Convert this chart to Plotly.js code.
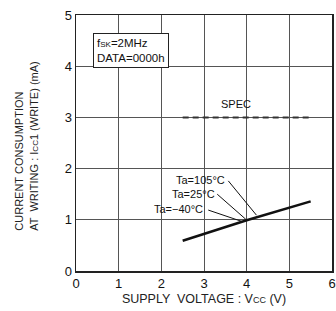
<!DOCTYPE html>
<html><head><meta charset="utf-8">
<script src="https://cdn.plot.ly/plotly-3.0.1.min.js"></script>
<style>html,body{margin:0;padding:0;background:#fff}</style>
</head><body>
<div id="chart" style="width:336px;height:311px"></div>
<script>
const vcc = [2.5, 4.0, 5.5];
const icc = [0.59, 0.99, 1.36];
const specX = [2.5, 5.5];
const specY = [3, 3];
const tempLabels = ['Ta=105°C', 'Ta=25°C', 'Ta=−40°C'];
const labelX = [3.53, 3.31, 3.03];
const labelY = [1.77, 1.50, 1.21];
const leaderStartX = [3.57, 3.31, 3.10];
const leaderStartY = [1.76, 1.50, 1.19];
const leaderEndX = [4.23, 3.98, 3.88];
const leaderEndY = [1.09, 1.01, 0.97];
const xTicks = [0, 1, 2, 3, 4, 5, 6];
const yTicks = [0, 1, 2, 3, 4, 5];

const font = 'Liberation Sans, Arial, sans-serif';
const traces = [
  {x: vcc, y: icc, mode: 'lines', line: {color: '#111', width: 2.5}, hoverinfo: 'skip'},
  {x: specX, y: specY, mode: 'lines', line: {color: '#333', width: 2, dash: '6px,4px'}, hoverinfo: 'skip'}
];
const shapes = tempLabels.map((t, i) => ({
  type: 'line', xref: 'x', yref: 'y',
  x0: leaderStartX[i], y0: leaderStartY[i], x1: leaderEndX[i], y1: leaderEndY[i],
  line: {color: '#111', width: 1}
}));
const annotations = tempLabels.map((t, i) => ({
  x: labelX[i], y: labelY[i], xref: 'x', yref: 'y', text: t, showarrow: false,
  xanchor: 'right', yanchor: 'middle', font: {family: font, size: 11, color: '#111'}
}));
annotations.push({
  x: 3.74, y: 3.26, xref: 'x', yref: 'y', text: 'SPEC', showarrow: false,
  xanchor: 'center', yanchor: 'middle', font: {family: font, size: 11, color: '#111'}
});
annotations.push({
  x: 0.4, y: 4.65, xref: 'x', yref: 'y',
  text: 'f<span style="font-size:8px">SK</span>=2MHz<br>DATA=0000h',
  showarrow: false, xanchor: 'left', yanchor: 'top', align: 'left',
  bordercolor: '#222', borderwidth: 1, borderpad: 3, bgcolor: '#fff',
  font: {family: font, size: 11.5, color: '#111'}
});
annotations.push({
  x: -0.193, y: 0.15, xref: 'paper', yref: 'paper',
  text: 'CURRENT CONSUMPTION<br>AT  WRITING : I<span style="font-size:8px">CC</span>1 (WRITE) (mA)',
  textangle: -90, align: 'left', showarrow: false, xanchor: 'center', yanchor: 'bottom',
  font: {family: font, size: 11, color: '#222'}
});

const layout = {
  width: 336, height: 311,
  margin: {l: 76, r: 4, t: 15, b: 40},
  paper_bgcolor: '#fff', plot_bgcolor: '#fff',
  showlegend: false,
  font: {family: font, color: '#111'},
  xaxis: {
    range: [0, 6], tickvals: xTicks, ticktext: xTicks.map(String),
    showgrid: true, gridcolor: '#555', gridwidth: 1,
    showline: true, linecolor: '#222', linewidth: 1.5, mirror: true,
    zeroline: false, ticks: '', tickfont: {size: 13, family: font}, ticklabelstandoff: 0,
    title: {text: 'SUPPLY  VOLTAGE : V<span style="font-size:9px">CC</span> (V)', font: {size: 12.5, family: font, color: '#222'}, standoff: 4}
  },
  yaxis: {
    range: [0, 5], tickvals: yTicks, ticktext: yTicks.map(String),
    showgrid: true, gridcolor: '#555', gridwidth: 1,
    showline: true, linecolor: '#222', linewidth: 1.5, mirror: true,
    zeroline: false, ticks: '', tickfont: {size: 13, family: font}
  },
  shapes: shapes,
  annotations: annotations
};
Plotly.newPlot('chart', traces, layout, {displayModeBar: false, staticPlot: true});
</script>
</body></html>
